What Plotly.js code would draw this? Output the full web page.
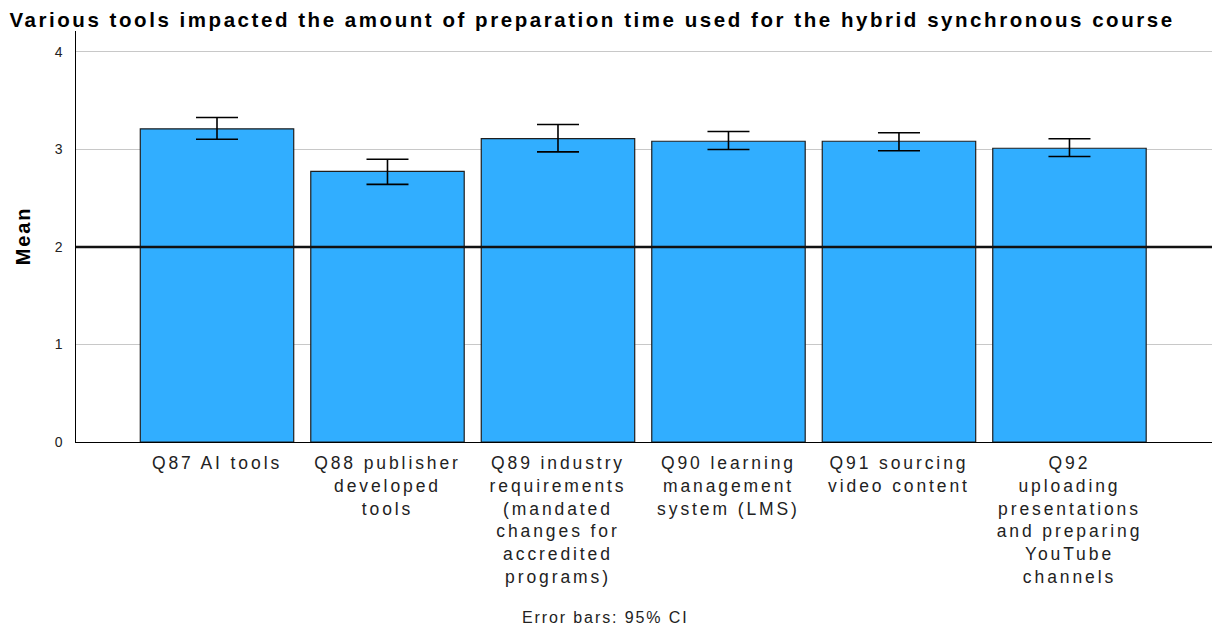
<!DOCTYPE html>
<html>
<head>
<meta charset="utf-8">
<script src="https://cdn.plot.ly/plotly-3.0.1.min.js"></script>
<style>
html,body{margin:0;padding:0;background:#fff;}
#chart{width:1217px;height:629px;}
#chart .gtitle{letter-spacing:2.55px;}
#chart .xtick text{letter-spacing:2.9px;}
#chart .ytick text{letter-spacing:0.5px;}
#chart .annotation-text{letter-spacing:1.9px;}
</style>
</head>
<body>
<div id="chart"></div>
<script>
const categories = [
  "Q87 AI tools",
  "Q88 publisher<br>developed<br>tools",
  "Q89 industry<br>requirements<br>(mandated<br>changes for<br>accredited<br>programs)",
  "Q90 learning<br>management<br>system (LMS)",
  "Q91 sourcing<br>video content",
  "Q92<br>uploading<br>presentations<br>and preparing<br>YouTube<br>channels"
];
const means   = [3.21, 2.775, 3.11, 3.083, 3.083, 3.011];
const ciUpper = [3.327, 2.898, 3.255, 3.183, 3.170, 3.108];
const ciLower = [3.104, 2.641, 2.974, 2.998, 2.985, 2.926];
const yTicks  = [0, 1, 2, 3, 4];
const referenceValue = 2;

const idx = categories.map((_, i) => i);
const errPlus  = ciUpper.map((u, i) => u - means[i]);
const errMinus = means.map((m, i) => m - ciLower[i]);

const trace = {
  type: 'bar',
  x: idx,
  y: means,
  width: 0.9,
  marker: {color: '#31aeff', line: {color: '#1f1f1f', width: 1.2}},
  error_y: {type: 'data', symmetric: false, array: errPlus, arrayminus: errMinus,
            color: '#000', thickness: 1.6, width: 21},
  hoverinfo: 'y'
};

const layout = {
  width: 1217, height: 629,
  margin: {l: 76, r: 5, t: 31, b: 187},
  paper_bgcolor: '#fff', plot_bgcolor: '#fff',
  font: {family: '"Liberation Sans", Arial, sans-serif', color: '#222'},
  showlegend: false,
  title: {text: '<b>Various tools impacted the amount of preparation time used for the hybrid synchronous course</b>',
          font: {size: 20.5, color: '#000'}, x: 0.4865, xanchor: 'center', y: 0.969, yanchor: 'middle'},
  xaxis: {
    range: [-0.827, 5.836], tickmode: 'array', tickvals: idx, ticktext: categories,
    ticks: 'outside', ticklen: 5, tickcolor: 'rgba(0,0,0,0)',
    tickfont: {size: 17.5, color: '#222'}, tickangle: 0,
    showline: true, linecolor: '#000', linewidth: 1.2, showgrid: false, zeroline: false, fixedrange: true
  },
  yaxis: {
    range: [0, 4.213], tickmode: 'array', tickvals: yTicks,
    ticks: 'outside', ticklen: 9, tickcolor: 'rgba(0,0,0,0)',
    tickfont: {size: 14, color: '#222'},
    showline: true, linecolor: '#000', linewidth: 1.2,
    showgrid: true, gridcolor: '#c8c8c8', gridwidth: 1, zeroline: false, fixedrange: true
  },
  shapes: [{type: 'line', xref: 'paper', x0: 0, x1: 1, yref: 'y', y0: referenceValue, y1: referenceValue,
            line: {color: '#111', width: 2.5}, layer: 'above'}],
  annotations: [
    {text: '<b>Mean</b>', xref: 'paper', yref: 'paper', x: 0, y: 0.5, xshift: -54, textangle: -90,
     showarrow: false, xanchor: 'center', yanchor: 'middle', font: {size: 20, color: '#000'}},
    {text: 'Error bars: 95% CI', xref: 'paper', yref: 'paper', x: 0.466, y: -0.427,
     showarrow: false, xanchor: 'center', yanchor: 'middle', font: {size: 16, color: '#222'}}
  ]
};

Plotly.newPlot('chart', [trace], layout, {displayModeBar: false, staticPlot: true});
</script>
</body>
</html>
